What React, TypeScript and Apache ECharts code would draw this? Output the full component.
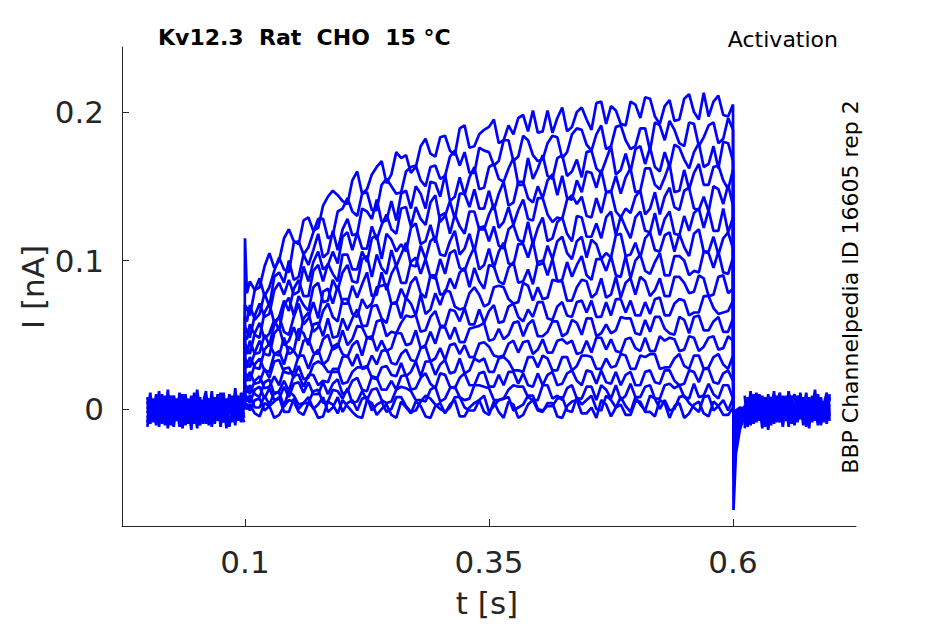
import React, { useEffect, useRef } from "react";
import * as echarts from "echarts";

// time grids (s)
const T_PRE = [0, 0.003, 0.006, 0.009, 0.012, 0.015, 0.018, 0.021, 0.024, 0.027, 0.03, 0.033, 0.036, 0.039, 0.042, 0.045, 0.048, 0.051, 0.054, 0.057, 0.06, 0.063, 0.066, 0.069, 0.072, 0.075, 0.078, 0.081, 0.084, 0.087, 0.09, 0.093, 0.096, 0.099];
const T_POST = [0.612, 0.615, 0.618, 0.621, 0.624, 0.627, 0.63, 0.633, 0.636, 0.639, 0.642, 0.645, 0.648, 0.651, 0.654, 0.657, 0.66, 0.663, 0.666, 0.669, 0.672, 0.675, 0.678, 0.681, 0.684, 0.687, 0.69, 0.693, 0.696, 0.699];
const T_PULSE = [0.1, 0.102, ...Array.from({ length: 100 }, (_, i) => Math.round((0.105 + 0.005 * i) * 1000) / 1000)];
const T_TAIL = [0.6005, 0.603, 0.607, 0.612];

// baseline current (pA) before and after the step
const BASE_PRE_1 = [5, -8, 2, -11, 7, -3, 9, -6, 0, -12, 4, 8, -5, 1, -9, 6, -2, 10, -7, 3, -10, 5, -4, 8, -8, 2, 11, -6, -1, 7, -9, 4, -3, 12];
const BASE_PRE_2 = [-6, 3, -9, 8, -2, 6, -11, 1, 9, -4, -8, 5, 2, -10, 7, -3, 4, -13, 6, -1, 8, -7, 3, -5, 10, -9, 0, 5, -12, 3, 7, -6, 2, -4];
const BASE_PRE_3 = [2, -4, 7, -7, 4, -10, 1, 6, -3, 9, -6, -1, 8, -9, 3, -5, 11, -2, -8, 6, 0, -11, 9, -3, 4, -6, -9, 7, 2, -5, 10, -8, 5, -1];
const BASE_PRE_4 = [-9, 6, -1, 3, -8, 10, -5, -2, 7, -7, 1, -12, 6, 4, -3, 9, -10, 0, 5, -6, 7, -2, -9, 2, -1, 8, -5, -10, 6, -3, 1, 9, -7, 4];
const BASE_PRE_5 = [1, -2, 4, -5, -1, 3, -7, 9, -4, 2, -6, 6, -9, 3, 5, -8, 1, -4, 8, -10, 4, -1, 6, -8, 2, -3, 5, -7, 9, -2, -5, 3, -9, 6];
const BASE_PRE_6 = [-12, 7, -4, 10, -9, 2, 5, -13, 8, -1, -7, 11, -3, 6, -10, 3, 9, -5, -11, 4, 12, -8, 1, -6, 9, -12, 5, -2, 8, -9, 14, -4, -7, 3];
const BASE_PRE_7 = [8, -10, 5, -3, 12, -7, -1, 6, -11, 9, -4, 3, -13, 10, -6, 1, -8, 13, -2, -9, 5, 7, -12, 4, -5, 11, -8, 2, -3, 9, -11, 6, 0, -9];
const BASE_PRE_8 = [-3, 11, -8, 4, -12, 6, -5, 13, -9, 1, 7, -6, 10, -11, 2, -14, 8, -3, 5, -7, 9, -4, 12, -10, 3, -2, 7, -13, 10, -5, 4, -8, 11, -6];
const BASE_POST_1 = [-10, 4, -6, 9, -3, 2, -8, 7, -1, -11, 5, 8, -4, 0, -7, 10, -5, 3, -9, 6, -2, 11, -6, 1, -8, 7, -3, 4, -10, 8];
const BASE_POST_2 = [-4, -9, 6, -2, 8, -7, 3, -12, 5, 1, -5, 9, -8, 4, -1, -10, 7, -3, 6, -6, 2, -9, 8, -4, 3, -11, 5, -2, 9, -5];
const BASE_POST_3 = [-13, 2, -5, 7, -9, 10, -1, -6, 4, 8, -10, 3, -3, 6, -8, 1, 9, -7, -2, 5, -11, 7, -4, 2, -6, 10, -9, 0, 6, -3];
const BASE_POST_4 = [-7, 8, -11, 3, 1, -4, 6, -9, 10, -2, -6, 4, 7, -12, 2, -3, 5, -8, 9, -1, -5, 3, -10, 6, 0, -7, 8, -4, 2, 7];
const BASE_POST_5 = [-2, -6, 5, -8, 4, -3, 8, -5, -1, 6, -9, 2, -4, 9, -6, 3, -10, 4, 1, -7, 6, -3, 5, -9, 7, -2, -5, 4, -8, 3];
const BASE_POST_6 = [9, -12, 3, -5, 11, -8, 1, 6, -14, 4, 10, -3, -9, 7, -6, 12, -1, -11, 5, 8, -7, 2, -13, 9, -4, 6, -10, 3, 11, -8];
const BASE_POST_7 = [-11, 6, -2, 10, -7, 3, -13, 8, 0, -5, 12, -9, 4, -3, 9, -12, 6, 1, -8, 11, -4, -10, 7, -2, 13, -6, 2, -9, 5, -1];
const BASE_POST_8 = [3, -7, 12, -10, 6, -4, 9, -2, -12, 7, -8, 5, 11, -6, 0, -9, 4, 10, -5, -3, 8, -12, 6, -7, 2, 9, -11, 5, -6, 10];

// step traces (pA) on T_PULSE
const TRACE_1 = [115, 78, 86, 80, 82, 96, 105, 95, 100, 115, 121, 113, 111, 127, 129, 120, 122, 137, 143, 147, 144, 140, 138, 154, 160, 145, 148, 158, 163, 167, 152, 158, 173, 169, 171, 159, 163, 177, 182, 172, 170, 183, 184, 174, 171, 189, 191, 176, 177, 185, 188, 190, 195, 179, 181, 191, 185, 196, 198, 187, 201, 186, 187, 201, 186, 196, 203, 187, 190, 200, 203, 195, 188, 206, 207, 192, 204, 201, 192, 191, 207, 205, 196, 210, 209, 197, 192, 204, 208, 194, 195, 209, 212, 200, 195, 213, 197, 207, 211, 198, 197, 205];
const TRACE_2 = [70, 68, 63, 80, 88, 76, 82, 93, 102, 94, 92, 112, 113, 104, 109, 119, 128, 128, 115, 117, 133, 135, 142, 133, 130, 145, 146, 134, 134, 151, 155, 150, 145, 146, 160, 163, 164, 154, 150, 163, 164, 155, 157, 170, 174, 164, 173, 159, 159, 176, 174, 173, 164, 167, 181, 181, 167, 170, 184, 181, 171, 167, 168, 179, 184, 183, 169, 173, 185, 189, 188, 178, 174, 185, 191, 175, 177, 190, 191, 181, 175, 177, 189, 189, 174, 193, 191, 181, 194, 188, 179, 177, 193, 192, 177, 183, 191, 193, 179, 182, 196, 188];
const TRACE_3 = [62, 59, 70, 60, 64, 78, 69, 89, 92, 85, 100, 87, 89, 104, 97, 107, 118, 102, 105, 120, 107, 121, 128, 117, 118, 135, 133, 128, 141, 126, 127, 140, 127, 145, 147, 135, 150, 145, 135, 153, 152, 143, 158, 140, 143, 156, 144, 156, 163, 148, 149, 163, 165, 155, 153, 162, 169, 151, 151, 169, 155, 162, 171, 157, 155, 169, 171, 157, 160, 168, 156, 173, 174, 162, 159, 168, 177, 158, 161, 172, 160, 175, 177, 165, 176, 163, 160, 173, 163, 178, 176, 168, 162, 173, 179, 163, 165, 177, 162, 180, 179, 167];
const TRACE_4 = [55, 53, 48, 63, 71, 62, 64, 80, 85, 77, 87, 77, 79, 96, 86, 99, 106, 94, 97, 106, 98, 116, 119, 107, 119, 108, 108, 123, 114, 124, 131, 121, 118, 135, 136, 123, 136, 128, 124, 139, 144, 126, 130, 140, 128, 145, 145, 136, 148, 135, 135, 147, 134, 145, 153, 137, 139, 153, 153, 142, 139, 150, 142, 154, 158, 144, 157, 142, 141, 154, 146, 160, 159, 149, 161, 146, 146, 157, 145, 156, 162, 146, 147, 162, 162, 151, 148, 156, 165, 146, 147, 161, 148, 159, 165, 151, 151, 163, 164, 154, 148, 161];
const TRACE_5 = [48, 47, 57, 50, 48, 65, 71, 58, 62, 73, 66, 81, 87, 76, 76, 93, 97, 86, 98, 91, 86, 104, 104, 94, 94, 106, 99, 115, 117, 101, 118, 114, 106, 111, 106, 122, 125, 111, 113, 124, 112, 130, 132, 118, 131, 123, 118, 133, 133, 121, 121, 131, 138, 122, 126, 136, 124, 134, 141, 128, 127, 142, 142, 131, 126, 129, 128, 141, 144, 138, 143, 130, 129, 142, 132, 146, 147, 133, 129, 135, 132, 143, 147, 131, 135, 146, 131, 143, 149, 136, 134, 147, 149, 135, 134, 143, 133, 150, 148, 138, 151, 137];
const TRACE_6 = [44, 42, 37, 51, 58, 47, 51, 60, 53, 70, 75, 63, 76, 70, 66, 82, 85, 72, 73, 87, 80, 92, 97, 86, 85, 101, 103, 89, 104, 95, 91, 107, 96, 104, 112, 97, 96, 110, 101, 113, 116, 104, 103, 113, 120, 104, 108, 118, 106, 122, 123, 113, 123, 110, 108, 121, 124, 114, 112, 126, 111, 122, 129, 113, 115, 126, 129, 118, 113, 130, 129, 116, 116, 125, 115, 129, 133, 117, 130, 122, 115, 129, 133, 120, 119, 132, 117, 128, 133, 118, 117, 130, 120, 132, 135, 122, 134, 120, 120, 135, 119, 129];
const TRACE_7 = [39, 37, 46, 37, 38, 50, 43, 57, 62, 52, 50, 62, 71, 57, 61, 72, 61, 79, 81, 71, 83, 71, 71, 83, 75, 84, 92, 76, 77, 92, 80, 91, 97, 85, 85, 99, 102, 91, 101, 89, 88, 101, 91, 105, 107, 95, 93, 102, 109, 94, 97, 108, 95, 106, 112, 98, 97, 111, 111, 102, 113, 97, 98, 110, 101, 113, 116, 105, 101, 113, 116, 102, 114, 111, 101, 105, 102, 117, 118, 103, 104, 112, 102, 115, 119, 107, 106, 117, 119, 106, 118, 109, 103, 118, 121, 106, 106, 116, 104, 115, 119, 108];
const TRACE_8 = [34, 32, 28, 38, 46, 37, 36, 51, 55, 43, 46, 55, 46, 61, 65, 52, 55, 66, 71, 62, 59, 74, 74, 64, 62, 74, 68, 71, 82, 83, 84, 71, 71, 81, 74, 85, 89, 78, 75, 90, 90, 77, 78, 88, 81, 92, 95, 82, 95, 86, 81, 97, 96, 86, 84, 95, 99, 85, 86, 94, 84, 99, 100, 90, 101, 86, 87, 99, 89, 97, 103, 90, 87, 101, 101, 93, 103, 90, 89, 103, 88, 100, 104, 93, 91, 99, 105, 90, 90, 103, 103, 100, 90, 93, 92, 106, 105, 95, 106, 92, 91, 102];
const TRACE_9 = [29, 28, 35, 28, 27, 40, 44, 37, 36, 48, 37, 39, 54, 51, 43, 57, 58, 49, 61, 48, 49, 61, 53, 61, 67, 56, 56, 69, 70, 61, 58, 71, 72, 61, 75, 71, 63, 77, 64, 67, 78, 70, 80, 79, 69, 67, 68, 78, 82, 77, 69, 71, 82, 83, 82, 74, 71, 72, 85, 83, 73, 82, 74, 75, 87, 86, 86, 73, 73, 82, 87, 86, 75, 78, 88, 75, 77, 89, 75, 85, 88, 77, 89, 86, 76, 80, 88, 76, 76, 89, 89, 85, 78, 79, 90, 88, 76, 77, 89, 90, 78, 81];
const TRACE_10 = [24, 23, 19, 30, 34, 26, 25, 37, 39, 30, 42, 39, 34, 46, 47, 38, 37, 47, 50, 40, 42, 53, 43, 47, 56, 55, 48, 47, 59, 60, 49, 52, 51, 58, 63, 62, 63, 52, 53, 62, 66, 56, 56, 67, 66, 59, 68, 57, 57, 67, 58, 66, 70, 58, 59, 69, 71, 62, 59, 67, 62, 72, 72, 61, 60, 69, 72, 63, 62, 72, 73, 65, 73, 62, 62, 72, 63, 74, 74, 65, 73, 63, 63, 72, 64, 74, 75, 63, 63, 71, 74, 73, 63, 65, 65, 76, 76, 68, 64, 65, 66, 73];
const TRACE_11 = [20, 19, 25, 17, 18, 27, 21, 32, 33, 25, 24, 25, 36, 36, 27, 36, 40, 30, 33, 42, 44, 37, 35, 43, 46, 36, 48, 49, 39, 46, 39, 41, 51, 51, 43, 44, 53, 41, 43, 52, 44, 55, 55, 47, 55, 45, 45, 54, 55, 56, 58, 46, 47, 54, 47, 50, 58, 59, 49, 57, 60, 49, 49, 52, 59, 59, 49, 51, 60, 58, 50, 61, 61, 49, 51, 57, 51, 53, 62, 61, 61, 51, 50, 60, 52, 62, 62, 54, 51, 50, 62, 60, 51, 62, 63, 53, 53, 59, 62, 52, 52, 61];
const TRACE_12 = [16, 15, 10, 19, 22, 14, 15, 22, 16, 27, 28, 21, 29, 20, 21, 30, 32, 30, 25, 25, 25, 35, 36, 29, 37, 27, 28, 36, 30, 39, 40, 31, 30, 37, 40, 33, 32, 41, 42, 32, 34, 41, 33, 43, 44, 37, 43, 35, 35, 44, 45, 42, 36, 35, 36, 44, 46, 38, 45, 46, 37, 40, 47, 38, 38, 46, 47, 44, 46, 37, 38, 46, 38, 48, 48, 40, 47, 39, 38, 47, 48, 41, 39, 48, 39, 39, 49, 46, 48, 47, 39, 40, 49, 48, 39, 42, 48, 49, 40, 41, 49, 46];
const TRACE_13 = [13, 11, 16, 10, 8, 18, 20, 10, 12, 19, 12, 23, 23, 15, 23, 23, 16, 19, 18, 27, 27, 17, 18, 25, 28, 28, 29, 21, 20, 28, 29, 23, 22, 31, 22, 25, 32, 22, 32, 32, 23, 30, 33, 24, 25, 34, 24, 26, 34, 32, 34, 25, 25, 34, 35, 32, 26, 26, 25, 35, 35, 28, 36, 34, 26, 26, 35, 35, 26, 29, 36, 36, 35, 27, 27, 34, 28, 29, 37, 36, 27, 27, 36, 35, 37, 37, 27, 28, 28, 34, 37, 29, 27, 36, 36, 27, 28, 35, 37, 30, 27, 36];
const TRACE_14 = [10, 8, 4, 13, 15, 7, 14, 6, 7, 15, 8, 17, 18, 11, 18, 10, 10, 18, 10, 17, 20, 10, 12, 19, 21, 13, 12, 22, 21, 13, 13, 19, 13, 22, 23, 13, 14, 21, 24, 17, 14, 24, 23, 15, 14, 21, 24, 16, 16, 24, 25, 15, 15, 23, 16, 25, 25, 17, 24, 16, 15, 24, 16, 23, 25, 16, 17, 24, 26, 19, 16, 26, 25, 17, 26, 18, 17, 25, 16, 23, 25, 16, 16, 25, 26, 18, 17, 26, 26, 19, 16, 17, 26, 25, 18, 27, 27, 18, 17, 24, 26, 19];
const TRACE_15 = [7, 5, 9, 1, 1, 9, 3, 11, 11, 2, 12, 9, 3, 4, 4, 12, 13, 4, 5, 13, 12, 7, 14, 4, 5, 12, 6, 13, 14, 6, 4, 5, 13, 15, 14, 12, 6, 6, 5, 13, 15, 5, 7, 14, 15, 8, 6, 7, 16, 16, 15, 14, 6, 6, 7, 13, 16, 15, 15, 8, 6, 6, 16, 16, 7, 9, 6, 14, 16, 7, 7, 15, 15, 6, 16, 13, 7, 16, 6, 9, 17, 8, 8, 15, 16, 7, 7, 16, 17, 14, 16, 8, 7, 17, 8, 9, 17, 10, 7, 16, 16, 7];
const TRACE_16 = [4, 3, -1, 6, 7, -1, 2, 5, 8, -2, -2, 7, 0, 4, 8, 0, 3, 8, -2, 1, 8, -2, 4, 6, -1, 7, 8, -1, 3, 5, -2, 0, 8, 8, 2, -2, -1, 5, 9, 7, 3, 0, -2, 1, 8, 8, 1, -1, -1, 6, 9, -2, 2, 6, 7, 8, -1, 1, 3, 9, 9, 0, -1, 2, 2, 7, 8, -1, -2, 8, 3, 6, 9, 0, -1, 9, 6, 1, 8, 2, -2, 8, 3, -1, 9, 7, 0, 6, -1, 0, 8, 9, 4, 1, -2, 8, 9, -1, 2, 6, -1, 7];
const TRACE_17 = [1, 0, 3, -3, -5, 4, 2, -6, -4, 2, 6, 5, -2, -4, 4, 1, -6, -5, 5, 3, -3, 6, 2, -2, -5, -6, 6, 4, -4, 0, 3, -4, -6, 5, 1, -3, 5, 2, -5, -6, 2, 4, -3, 3, 6, -5, -5, 1, 4, 6, -2, -4, 5, -2, -6, 5, 3, -6, -4, 3, 6, -1, -2, 4, 4, -5, -6, 2, 5, 6, -3, -3, 1, -6, 6, 3, -5, 1, 3, -4, -4, 5, 5, -2, -2, -5, 6, 4, -6, 2, 4, -6, -3, 3, 5, -3, -5, 5, 2, -4, -4, 1];

// tail currents (pA) on T_TAIL
const TAIL_1 = [-68, -30, -14, -4];
const TAIL_2 = [-45, -20, -9, -2];
const TAIL_3 = [-38, -17, -8, -2];
const TAIL_4 = [-32, -14, -7, -1];
const TAIL_5 = [-28, -12, -6, -1];
const TAIL_6 = [-25, -11, -5, -1];
const TAIL_7 = [-22, -10, -4, 0];
const TAIL_8 = [-19, -8, -4, 0];
const TAIL_9 = [-16, -7, -3, 1];
const TAIL_10 = [-14, -6, -3, 0];
const TAIL_11 = [-12, -5, -2, 1];
const TAIL_12 = [-10, -4, -2, 0];
const TAIL_13 = [-8, -3, -1, 1];
const TAIL_14 = [-6, -2, -1, 0];
const TAIL_15 = [-5, -2, 0, 1];
const TAIL_16 = [-4, -1, 0, 1];
const TAIL_17 = [-3, -1, 1, 0];

const TRACES = [TRACE_1, TRACE_2, TRACE_3, TRACE_4, TRACE_5, TRACE_6, TRACE_7, TRACE_8, TRACE_9, TRACE_10, TRACE_11, TRACE_12, TRACE_13, TRACE_14, TRACE_15, TRACE_16, TRACE_17];
const TAILS = [TAIL_1, TAIL_2, TAIL_3, TAIL_4, TAIL_5, TAIL_6, TAIL_7, TAIL_8, TAIL_9, TAIL_10, TAIL_11, TAIL_12, TAIL_13, TAIL_14, TAIL_15, TAIL_16, TAIL_17];
const BASE_PRE = [BASE_PRE_1, BASE_PRE_2, BASE_PRE_3, BASE_PRE_4, BASE_PRE_5, BASE_PRE_6, BASE_PRE_7, BASE_PRE_8];
const BASE_POST = [BASE_POST_1, BASE_POST_2, BASE_POST_3, BASE_POST_4, BASE_POST_5, BASE_POST_6, BASE_POST_7, BASE_POST_8];

const X_TICKS = [0.1, 0.35, 0.6];
const Y_TICKS = [0, 0.1, 0.2];

const BLUE = "#0000ff";
const AXIS = "#262626";
const FONT = "DejaVu Sans";

export default function App() {
  const ref = useRef<HTMLDivElement>(null);
  useEffect(() => {
    document.body.style.margin = "0";
    if (!ref.current) return;
    const chart = echarts.init(ref.current, undefined, { renderer: "svg" });
    const pa = (v: number) => v / 1000;
    const line = (data: number[][]) => ({
      type: "line",
      data,
      showSymbol: false,
      symbol: "none",
      silent: true,
      lineStyle: { color: BLUE, width: 2.7 },
      z: 3,
    });
    const series: any[] = [];
    BASE_PRE.forEach((arr) => series.push(line(T_PRE.map((t, i) => [t, pa(arr[i])]))));
    BASE_POST.forEach((arr) => series.push(line(T_POST.map((t, i) => [t, pa(arr[i])]))));
    TRACES.forEach((arr, k) => {
      const d: number[][] = [[0.0995, 0]];
      T_PULSE.forEach((t, i) => d.push([t, pa(arr[i])]));
      T_TAIL.forEach((t, i) => d.push([t, pa(TAILS[k][i])]));
      series.push(line(d));
    });
    chart.setOption({
      animation: false,
      backgroundColor: "#ffffff",
      grid: { left: 122, right: 89, top: 47, bottom: 98, containLabel: false },
      xAxis: {
        type: "value",
        min: -0.026,
        max: 0.726,
        splitLine: { show: false },
        axisLine: { show: true, onZero: false, lineStyle: { color: AXIS, width: 1 } },
        axisTick: { show: true, inside: true, length: 7, customValues: X_TICKS, lineStyle: { color: AXIS } },
        axisLabel: {
          customValues: X_TICKS,
          formatter: (v: number) => String(v),
          color: AXIS,
          fontFamily: FONT,
          fontSize: 31,
          margin: 20,
        },
      },
      yAxis: {
        type: "value",
        min: -0.0788,
        max: 0.2438,
        splitLine: { show: false },
        axisLine: { show: true, onZero: false, lineStyle: { color: AXIS, width: 1 } },
        axisTick: { show: true, inside: true, length: 7, customValues: Y_TICKS, lineStyle: { color: AXIS } },
        axisLabel: {
          customValues: Y_TICKS,
          formatter: (v: number) => String(v),
          color: AXIS,
          fontFamily: FONT,
          fontSize: 31,
          margin: 18,
        },
      },
      series,
      graphic: [
        {
          type: "text",
          left: 158,
          top: 26,
          style: { text: "Kv12.3  Rat  CHO  15 °C", fontFamily: FONT, fontWeight: "bold", fontSize: 22, fill: "#000" },
        },
        {
          type: "text",
          x: 838,
          y: 39,
          style: { text: "Activation", fontFamily: FONT, fontSize: 22, fill: "#000", align: "right", verticalAlign: "middle" },
        },
        {
          type: "text",
          x: 850,
          y: 287,
          rotation: Math.PI / 2,
          style: { text: "BBP Channelpedia ID 16605 rep 2", fontFamily: FONT, fontSize: 22, fill: "#000", align: "center", verticalAlign: "middle" },
        },
        {
          type: "text",
          x: 33,
          y: 287,
          rotation: Math.PI / 2,
          style: { text: "I [nA]", fontFamily: FONT, fontSize: 31, fill: AXIS, align: "center", verticalAlign: "middle" },
        },
        {
          type: "text",
          x: 487,
          y: 603,
          style: { text: "t [s]", fontFamily: FONT, fontSize: 31, fill: AXIS, align: "center", verticalAlign: "middle" },
        },
      ],
    });
    return () => chart.dispose();
  }, []);
  return <div ref={ref} style={{ width: 945, height: 624 }} />;
}
